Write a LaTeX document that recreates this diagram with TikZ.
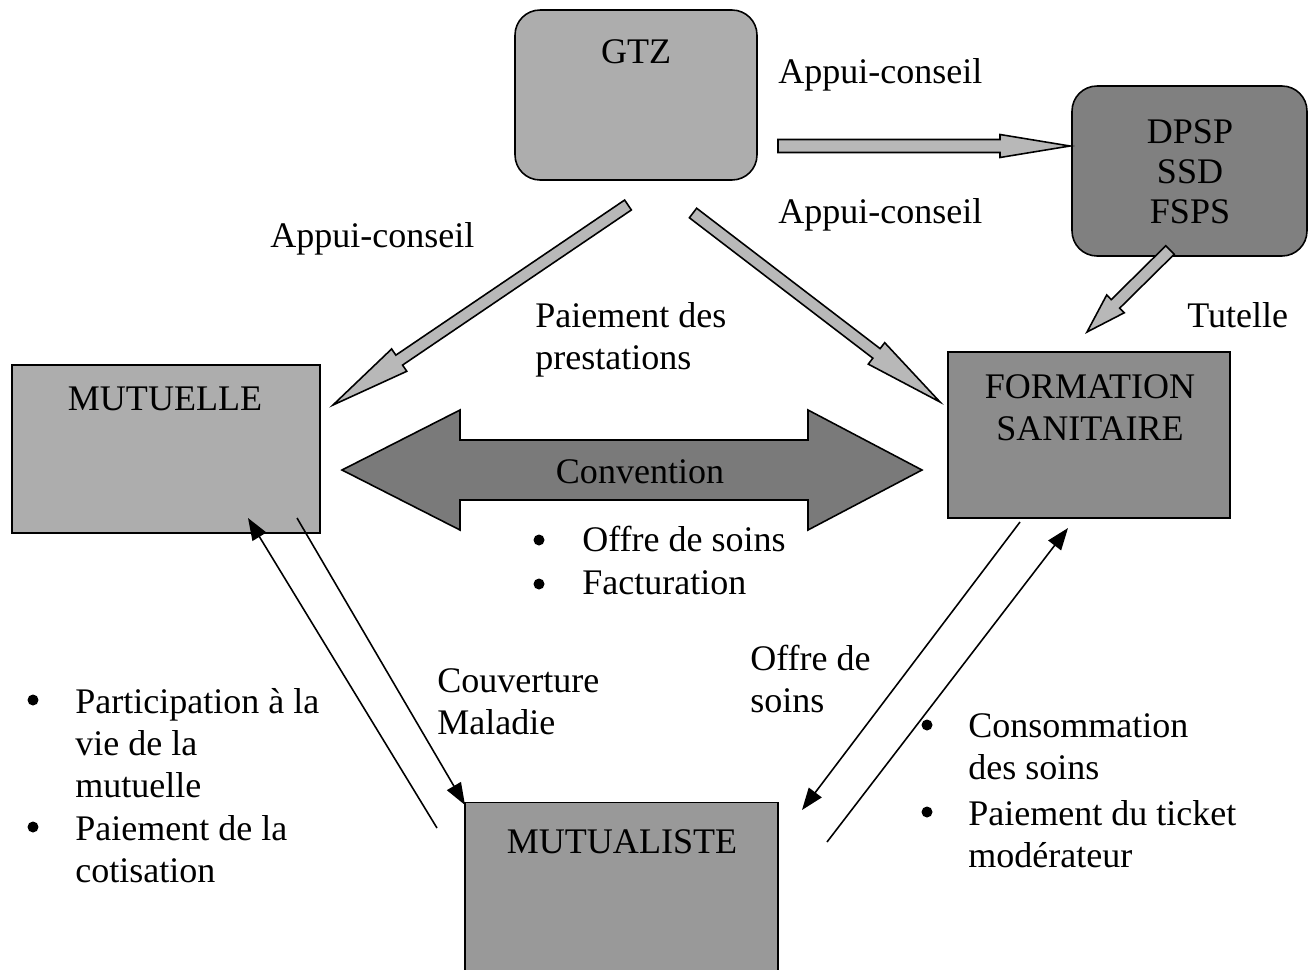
\documentclass[tikz,border=0pt]{standalone}
\usepackage{fontspec}
\setmainfont{Liberation Serif}
\usetikzlibrary{calc,arrows.meta}
\definecolor{gtzc}{gray}{0.68}
\definecolor{dpspc}{gray}{0.50}
\definecolor{mutc}{gray}{0.68}
\definecolor{formc}{gray}{0.55}
\definecolor{mutlc}{gray}{0.60}
\definecolor{convc}{gray}{0.48}
\definecolor{fatc}{gray}{0.72}
% fat arrow: #1 start, #2 tip, #3 shaft half width, #4 head half width, #5 head length
\newcommand{\fatarr}[5]{%
  \coordinate (tmpH) at ($(#2)!#5!(#1)$);
  \filldraw[fill=fatc, draw=black, line width=0.9pt, line join=miter]
    ($(#1)!#3!90:(#2)$) -- ($(tmpH)!#3!90:(#2)$) -- ($(tmpH)!#4!90:(#2)$) -- (#2)
    -- ($(tmpH)!#4!-90:(#2)$) -- ($(tmpH)!#3!-90:(#2)$) -- ($(#1)!#3!-90:(#2)$) -- cycle;
}
\begin{document}
\begin{tikzpicture}[x=0.02cm,y=-0.02cm,
  box/.style={draw=black, line width=0.9pt, inner sep=0pt},
  lbl/.style={inner sep=0pt, font=\fontsize{20.5}{23.8}\selectfont, align=center},
  txt/.style={inner sep=0pt, font=\fontsize{20.5}{23.8}\selectfont, align=left},
  bul/.style={circle, fill=black, inner sep=0pt, minimum size=0.22cm},
  thinarr/.style={line width=0.9pt, -{Triangle[length=0.44cm,width=0.32cm]}}]
\useasboundingbox (0,0) rectangle (1315,970);
\clip (0,0) rectangle (1315,970);

% boxes
\node[box, fill=gtzc, rounded corners=0.5cm, minimum width=4.84cm, minimum height=3.4cm] (gtz) at (636,95) {};
\node[box, fill=dpspc, rounded corners=0.5cm, minimum width=4.7cm, minimum height=3.4cm] (dpsp) at (1189.5,171) {};
\node[box, fill=mutc, minimum width=6.16cm, minimum height=3.36cm] (mutuelle) at (166,449) {};
\node[box, fill=formc, minimum width=5.64cm, minimum height=3.32cm] (formation) at (1089,435) {};
\node[box, fill=mutlc, minimum width=6.26cm, minimum height=3.9cm] (mutualiste) at (621.5,900) {};

% box labels
\node[lbl] (tgtz) at (636,52) {GTZ};
\node[lbl] (tdpsp) at (1190,172) {DPSP\\[-1pt]SSD\\[-1pt]FSPS};
\node[lbl] (tmut) at (165,399) {MUTUELLE};
\node[lbl] (tform) at (1090,408) {FORMATION\\SANITAIRE};
\node[lbl] (tmutl) at (622,842) {MUTUALISTE};

% convention double arrow
\coordinate (cl) at (342,470);
\coordinate (cr) at (922,470);
\filldraw[fill=convc, draw=black, line width=0.9pt, line join=miter]
  (cl) -- ($(cl)+(118,-60)$) -- ($(cl)+(118,-30)$) -- ($(cr)+(-114,-30)$) -- ($(cr)+(-114,-60)$)
  -- (cr) -- ($(cr)+(-114,60)$) -- ($(cr)+(-114,30)$) -- ($(cl)+(118,30)$) -- ($(cl)+(118,60)$) -- cycle;
\node[lbl] (conv) at (640,472) {Convention};

% fat arrows
\coordinate (a1s) at (778,146); \coordinate (a1e) at (1070,146);
\fatarr{a1s}{a1e}{0.13cm}{0.23cm}{1.4cm}
\coordinate (a2s) at (628,205); \coordinate (a2e) at (333,405);
\fatarr{a2s}{a2e}{0.12cm}{0.27cm}{1.6cm}
\coordinate (a3s) at (693,213); \coordinate (a3e) at (940,402);
\fatarr{a3s}{a3e}{0.12cm}{0.27cm}{1.6cm}
\coordinate (a4s) at (1170,250); \coordinate (a4e) at (1087,332);
\fatarr{a4s}{a4e}{0.12cm}{0.25cm}{0.8cm}

% thin arrows
\coordinate (l1s) at (437,828); \coordinate (l1e) at (248,518);
\draw[thinarr] (l1s) -- (l1e);
\coordinate (l2s) at (297,518); \coordinate (l2e) at (465,805);
\draw[thinarr] (l2s) -- (l2e);
\coordinate (l3s) at (1020,522); \coordinate (l3e) at (802,810);
\draw[thinarr] (l3s) -- (l3e);
\coordinate (l4s) at (827,842); \coordinate (l4e) at (1068,528);
\draw[thinarr] (l4s) -- (l4e);

% labels
\node[txt, anchor=west] (ac1) at (778,75) {Appui-conseil};
\node[txt, anchor=west] (ac2) at (778,215) {Appui-conseil};
\node[txt, anchor=west] (ac3) at (270,239) {Appui-conseil};
\node[txt, anchor=west] (tut) at (1187,315) {Tutelle};
\node[txt, anchor=north west] (paie) at (535,302) {Paiement des\\prestations};
\node[txt, anchor=north west] (couv) at (437,668) {Couverture\\Maladie};
\node[txt, anchor=north west] (offre) at (750,645) {Offre de\\soins};

\node[bul] (bo1) at (539,540) {};
\node[txt, anchor=west] (o1) at (582,539) {Offre de soins};
\node[bul] (bo2) at (539,584) {};
\node[txt, anchor=west] (o2) at (582,583) {Facturation};

\node[bul] (bl1) at (33,700) {};
\node[txt, anchor=north west] (pl1) at (75,688) {Participation à la\\vie de la\\mutuelle};
\node[bul] (bl2) at (33,827) {};
\node[txt, anchor=north west] (pl2) at (75,815) {Paiement de la\\cotisation};

\node[bul] (br1) at (927,725) {};
\node[txt, anchor=north west] (pr1) at (968,713) {Consommation\\des soins};
\node[bul] (br2) at (927,812) {};
\node[txt, anchor=north west] (pr2) at (968,800) {Paiement du ticket\\modérateur};
\end{tikzpicture}
\end{document}
